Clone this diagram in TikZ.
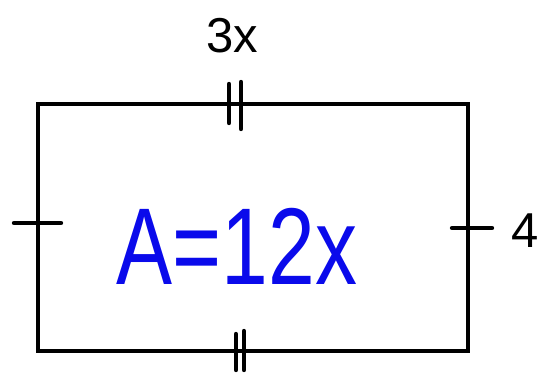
\documentclass[tikz,border=0pt]{standalone}
\usepackage{fontspec}
\setmainfont{Liberation Sans}
\begin{document}
\begin{tikzpicture}[x=1pt,y=-1pt,
  edge/.style={line width=4.2pt,line join=miter},
  tick/.style={line width=4.4pt,line cap=round},
  lbl/.style={font=\fontsize{49}{49}\selectfont,inner sep=0pt},
  area/.style={font=\fontsize{84}{84}\selectfont,text=handblue,inner sep=0pt}]
\definecolor{handblue}{RGB}{10,10,235}
\useasboundingbox (0,0) rectangle (537,372);
\draw[edge] (38,104) rectangle (468,351);
% top double tick
\draw[tick] (229,84) -- (229,123);
\draw[tick] (241,82) -- (241,129);
% bottom double tick
\draw[tick] (236,334) -- (236,370);
\draw[tick] (244,331) -- (244,370);
% side ticks
\draw[tick] (14,223) -- (61,223);
\draw[tick] (452,228) -- (492,228);
\node[lbl] (top) at (232,36) {3x};
\node[lbl] (right) at (525,231) {4};
\node[area] (A) at (237,246) {\scalebox{1}[1.3]{A=12x}};
\end{tikzpicture}
\end{document}
